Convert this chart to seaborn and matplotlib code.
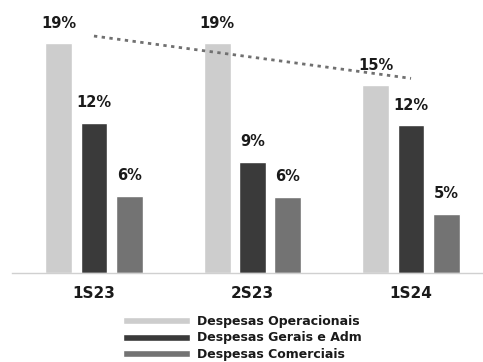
import numpy as np
import pandas as pd
import matplotlib
matplotlib.use("Agg")
import matplotlib.pyplot as plt
import seaborn as sns

periods = ["1S23", "2S23", "1S24"]
series = ["Despesas Operacionais", "Despesas Gerais e Adm", "Despesas Comerciais"]
operacionais = [19.0, 19.0, 15.5]
gerais_adm = [12.4, 9.2, 12.2]
comerciais = [6.4, 6.3, 4.9]
labels_oper = ["19%", "19%", "15%"]
labels_adm = ["12%", "9%", "12%"]
labels_com = ["6%", "6%", "5%"]

colors = ["#cdcdcd", "#3a3a3a", "#737373"]

df = pd.DataFrame({
    "periodo": periods * 3,
    "serie": [series[0]] * 3 + [series[1]] * 3 + [series[2]] * 3,
    "valor": operacionais + gerais_adm + comerciais,
})

sns.set_style("white")
plt.rcParams["font.family"] = ["DejaVu Sans"]

fig = plt.figure(figsize=(4.83, 3.62), dpi=100)
ax = fig.add_axes([12 / 483, 1 - 273 / 362, 1 - 12 / 483, 273 / 362])

sns.barplot(data=df, x="periodo", y="valor", hue="serie", order=periods,
            hue_order=series, palette=colors, width=0.67, gap=0.24,
            saturation=1, ax=ax, legend=True)

for cont, labs in zip(ax.containers, [labels_oper, labels_adm, labels_com]):
    ax.bar_label(cont, labels=labs, padding=9, fontsize=10.5,
                 fontweight="bold", color="#1a1a1a")

# linear trendline of Despesas Operacionais
xs = np.arange(len(periods))
coef = np.polyfit(xs, operacionais, 1)
ax.plot(xs, np.polyval(coef, xs), linestyle=(0, (1.2, 1.6)), color="#707070",
        linewidth=2.0, zorder=3)

ax.set_xlim(-0.517, 2.454)
ax.set_ylim(0, 273 / 12.1)
ax.set_xlabel("")
ax.set_ylabel("")
ax.set_yticks([])
ax.tick_params(axis="x", length=0, pad=9, labelsize=11)
for t in ax.get_xticklabels():
    t.set_fontweight("bold")
    t.set_color("#1a1a1a")
for s in ["top", "right", "left"]:
    ax.spines[s].set_visible(False)
ax.spines["bottom"].set_color("#d0d0d0")
ax.spines["bottom"].set_linewidth(1.0)

handles, labs = ax.get_legend_handles_labels()
ax.legend_.remove()
leg = fig.legend(handles, labs, loc="center left",
                 bbox_to_anchor=(123 / 483, 1 - 338 / 362),
                 frameon=False, fontsize=9, handlelength=5.36,
                 handleheight=0.48, handletextpad=0.55, labelspacing=0.28,
                 borderpad=0, borderaxespad=0)
for t in leg.get_texts():
    t.set_fontweight("bold")
    t.set_color("#1a1a1a")

fig.savefig("out.png", dpi=100)
